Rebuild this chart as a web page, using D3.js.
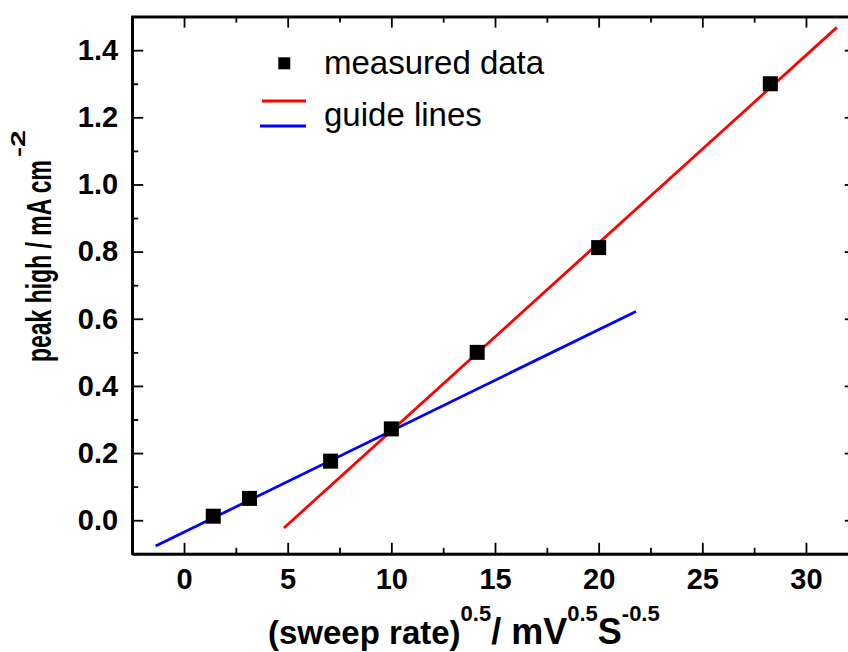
<!DOCTYPE html>
<html>
<head>
<meta charset="utf-8">
<script src="https://cdn.jsdelivr.net/npm/d3@7"></script>
<style>
  body { margin: 0; background: #fff; }
  svg { display: block; font-family: "Liberation Sans", Arial, sans-serif; }
  .axis path, .axis line { stroke: #000; }
  .axis text { font-size: 29px; font-weight: bold; fill: #000; }
</style>
</head>
<body>
<div id="chart"></div>
<script>
// Data
var sweepRoot = [1.41, 3.16, 7.07, 10, 14.14, 20, 28.28];
var peakHigh = [0.012, 0.065, 0.176, 0.272, 0.5, 0.812, 1.30];

// guide lines, two end points each [x, y]
var redLine = [[4.82, -0.023], [31.49, 1.468]];
var blueLine = [[-1.37, -0.077], [21.8, 0.622]];

var xMajor = [0, 5, 10, 15, 20, 25, 30];
var xMinor = [-2.5, 2.5, 7.5, 12.5, 17.5, 22.5, 27.5, 32.5];
var yMajor = [0.0, 0.2, 0.4, 0.6, 0.8, 1.0, 1.2, 1.4];
var yMinor = [-0.1, 0.1, 0.3, 0.5, 0.7, 0.9, 1.1, 1.3, 1.5];

var width = 848;
var height = 652;

var svg = d3.select('#chart')
  .append('svg')
  .attr('width', width)
  .attr('height', height);

// Scales
var x = d3.scaleLinear()
  .domain([-2.5, 32.5])
  .range([132.2, 857.8]);

var y = d3.scaleLinear()
  .domain([-0.1, 1.5])
  .range([553.8, 16.6]);

var plotLeft = x.range()[0], plotRight = x.range()[1];
var plotTop = y.range()[1], plotBottom = y.range()[0];

// plot frame
svg.append('rect')
  .attr('x', plotLeft)
  .attr('y', plotTop)
  .attr('width', plotRight - plotLeft)
  .attr('height', plotBottom - plotTop)
  .attr('fill', 'none')
  .attr('stroke', '#000')
  .attr('stroke-width', 2.2);

//////////////////////////////////////////
/// Axes (ticks point inward)
//////////////////////////////////////////

function addAxis(axis, transform) {
  svg.append('g')
    .attr('class', 'axis')
    .attr('transform', transform)
    .call(axis)
    .call(g => g.selectAll('line').attr('stroke-width', 1.8))
    .call(g => g.select('path.domain').attr('stroke-width', 2.2));
}

// bottom, major with labels
addAxis(d3.axisBottom(x).tickValues(xMajor).tickSize(-11).tickPadding(15).tickSizeOuter(0),
  'translate(0,' + plotBottom + ')');
addAxis(d3.axisBottom(x).tickValues(xMinor).tickSize(-6).tickFormat('').tickSizeOuter(0),
  'translate(0,' + plotBottom + ')');

// top, no labels
addAxis(d3.axisTop(x).tickValues(xMajor).tickSize(-11).tickFormat('').tickSizeOuter(0),
  'translate(0,' + plotTop + ')');
addAxis(d3.axisTop(x).tickValues(xMinor).tickSize(-6).tickFormat('').tickSizeOuter(0),
  'translate(0,' + plotTop + ')');

// left, major with labels
addAxis(d3.axisLeft(y).tickValues(yMajor).tickSize(-11).tickPadding(14).tickSizeOuter(0)
  .tickFormat(d3.format('.1f')), 'translate(' + plotLeft + ',0)');
addAxis(d3.axisLeft(y).tickValues(yMinor).tickSize(-6).tickFormat('').tickSizeOuter(0),
  'translate(' + plotLeft + ',0)');

// right, no labels (mostly outside the picture)
addAxis(d3.axisRight(y).tickValues(yMajor).tickSize(-13).tickFormat('').tickSizeOuter(0),
  'translate(' + plotRight + ',0)');

//////////////////////////////////////////
/// Guide lines and points
//////////////////////////////////////////

var line = d3.line()
  .x(d => x(d[0]))
  .y(d => y(d[1]));

svg.append('path')
  .datum(blueLine)
  .attr('d', line)
  .attr('fill', 'none')
  .attr('stroke', '#0000ff')
  .attr('stroke-width', 2.8);

svg.append('path')
  .datum(redLine)
  .attr('d', line)
  .attr('fill', 'none')
  .attr('stroke', '#ff0000')
  .attr('stroke-width', 2.8);

var sq = 15;
svg.append('g')
  .selectAll('rect')
  .data(sweepRoot)
  .enter().append('rect')
  .attr('x', (d, i) => x(d) - sq / 2)
  .attr('y', (d, i) => y(peakHigh[i]) - sq / 2)
  .attr('width', sq)
  .attr('height', sq)
  .attr('fill', '#000');

//////////////////////////////////////////
/// Legend
//////////////////////////////////////////

var legend = svg.append('g').attr('class', 'legend');

legend.append('rect')
  .attr('x', 278.3).attr('y', 57.3)
  .attr('width', 12).attr('height', 12)
  .attr('fill', '#000');

legend.append('line')
  .attr('x1', 262).attr('x2', 306)
  .attr('y1', 101).attr('y2', 101)
  .attr('stroke', '#ff0000').attr('stroke-width', 2.8);

legend.append('line')
  .attr('x1', 260).attr('x2', 306)
  .attr('y1', 126).attr('y2', 126)
  .attr('stroke', '#0000ff').attr('stroke-width', 2.8);

legend.append('text')
  .attr('x', 324).attr('y', 73.5)
  .style('font-size', '33px')
  .text('measured data');

legend.append('text')
  .attr('x', 324).attr('y', 126)
  .style('font-size', '33px')
  .text('guide lines');

//////////////////////////////////////////
/// Axis titles
//////////////////////////////////////////

var xTitle = svg.append('text')
  .attr('x', 268).attr('y', 644)
  .style('font-size', '33px')
  .style('font-weight', 'bold');

xTitle.append('tspan').text('(sweep rate)');
xTitle.append('tspan').attr('dy', -23).style('font-size', '22px').text('0.5');
xTitle.append('tspan').attr('dy', 23).style('font-size', '36px').text('/ mV');
xTitle.append('tspan').attr('dy', -23).style('font-size', '22px').text('0.5');
xTitle.append('tspan').attr('dy', 23).style('font-size', '36px').text('S');
xTitle.append('tspan').attr('dy', -23).style('font-size', '22px').text('-0.5');

// y title, narrow along its length as in the picture
svg.append('text')
  .attr('transform', 'translate(51,362) rotate(-90)')
  .attr('textLength', 202)
  .attr('lengthAdjust', 'spacingAndGlyphs')
  .style('font-size', '35px')
  .style('font-weight', 'bold')
  .text('peak high / mA cm');

svg.append('text')
  .attr('transform', 'translate(25,157) rotate(-90)')
  .attr('textLength', 27)
  .attr('lengthAdjust', 'spacingAndGlyphs')
  .style('font-size', '20px')
  .style('font-weight', 'bold')
  .text('-2');
</script>
</body>
</html>
